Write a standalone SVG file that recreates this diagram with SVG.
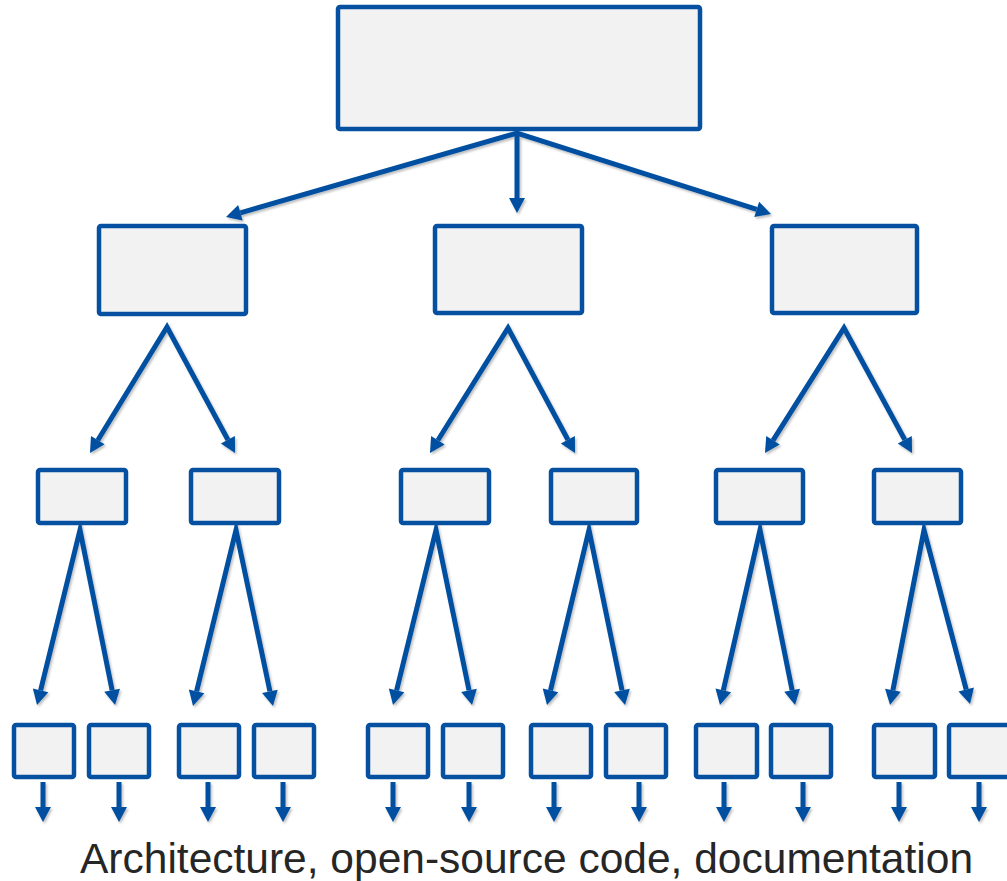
<svg xmlns="http://www.w3.org/2000/svg" width="1007" height="881" viewBox="0 0 1007 881">
  <style>
    .box { fill: #f2f2f2; stroke: #0550a0; stroke-width: 4.5; stroke-linejoin: round; }
    .con { fill: none; stroke: #0550a0; stroke-width: 5; stroke-linejoin: miter; stroke-miterlimit: 10; }
    .arr { marker-end: url(#ah); }
    .pair { marker-start: url(#ah); marker-end: url(#ah); }
    .cap { font-family: "Liberation Sans", Arial, sans-serif; font-size: 42.5px; fill: #262626; }
  </style>
  <defs>
    <marker id="ah" markerUnits="userSpaceOnUse" markerWidth="17" markerHeight="17" refX="0" refY="8" orient="auto-start-reverse" overflow="visible">
      <path d="M0,0 L15,8 L0,16 Z" fill="#0550a0"/>
    </marker>
    <filter id="sh" x="-5%" y="-5%" width="110%" height="110%">
      <feDropShadow dx="1.5" dy="2" stdDeviation="1.2" flood-color="#000" flood-opacity="0.25"/>
    </filter>
  </defs>
  <rect width="1007" height="881" fill="#ffffff"/>

  <g id="connectors" filter="url(#sh)">
    <path class="con pair" d="M240.4,212.8 L517,133 L756.7,209.4"/>
    <path class="con arr" d="M517,133 L517,198"/>

    <path class="con pair" d="M97.8,440.2 L167,327 L227.9,439.8"/>
    <path class="con pair" d="M437.9,440.3 L508,328 L567.9,439.8"/>
    <path class="con pair" d="M773.0,440.3 L844,328 L904.8,439.8"/>

    <path class="con pair" d="M40.6,690.4 L80,530 L112.1,690.3"/>
    <path class="con pair" d="M196.6,691.4 L236,530 L269.9,691.3"/>
    <path class="con pair" d="M396.6,690.4 L436,530 L469.0,690.3"/>
    <path class="con pair" d="M550.5,690.4 L589,530 L622.0,690.3"/>
    <path class="con pair" d="M723.3,690.4 L760,530 L792.1,690.3"/>
    <path class="con pair" d="M892.9,690.3 L924,530 L966.2,689.5"/>

    <path class="con arr" d="M43,782 L43,807"/>
    <path class="con arr" d="M119,782 L119,807"/>
    <path class="con arr" d="M208,782 L208,807"/>
    <path class="con arr" d="M283,782 L283,807"/>
    <path class="con arr" d="M393,782 L393,807"/>
    <path class="con arr" d="M469,782 L469,807"/>
    <path class="con arr" d="M554,782 L554,807"/>
    <path class="con arr" d="M639,782 L639,807"/>
    <path class="con arr" d="M724,782 L724,807"/>
    <path class="con arr" d="M803,782 L803,807"/>
    <path class="con arr" d="M899,782 L899,807"/>
    <path class="con arr" d="M979,782 L979,807"/>
  </g>

  <g id="root"><rect class="box" x="338" y="7" width="362" height="122" rx="2"/></g>

  <g id="n2-1"><rect class="box" x="99" y="226" width="147" height="88" rx="2"/></g>
  <g id="n2-2"><rect class="box" x="435" y="226" width="147" height="87" rx="2"/></g>
  <g id="n2-3"><rect class="box" x="772" y="226" width="145" height="87" rx="2"/></g>

  <g id="n3-1"><rect class="box" x="38" y="470" width="88" height="53" rx="2"/></g>
  <g id="n3-2"><rect class="box" x="191" y="470" width="88" height="53" rx="2"/></g>
  <g id="n3-3"><rect class="box" x="401" y="470" width="88" height="53" rx="2"/></g>
  <g id="n3-4"><rect class="box" x="551" y="470" width="86" height="53" rx="2"/></g>
  <g id="n3-5"><rect class="box" x="716" y="470" width="87" height="53" rx="2"/></g>
  <g id="n3-6"><rect class="box" x="874" y="470" width="87" height="53" rx="2"/></g>

  <g id="n4-1"><rect class="box" x="14" y="725" width="60" height="52" rx="2"/></g>
  <g id="n4-2"><rect class="box" x="89" y="725" width="60" height="52" rx="2"/></g>
  <g id="n4-3"><rect class="box" x="179" y="725" width="60" height="52" rx="2"/></g>
  <g id="n4-4"><rect class="box" x="254" y="725" width="60" height="52" rx="2"/></g>
  <g id="n4-5"><rect class="box" x="368" y="725" width="60" height="52" rx="2"/></g>
  <g id="n4-6"><rect class="box" x="443" y="725" width="60" height="52" rx="2"/></g>
  <g id="n4-7"><rect class="box" x="531" y="725" width="60" height="52" rx="2"/></g>
  <g id="n4-8"><rect class="box" x="606" y="725" width="60" height="52" rx="2"/></g>
  <g id="n4-9"><rect class="box" x="696" y="725" width="61" height="52" rx="2"/></g>
  <g id="n4-10"><rect class="box" x="771" y="725" width="60" height="52" rx="2"/></g>
  <g id="n4-11"><rect class="box" x="874" y="725" width="61" height="52" rx="2"/></g>
  <g id="n4-12"><rect class="box" x="949" y="725" width="62" height="52" rx="2"/></g>

  <g id="caption"><text class="cap" x="80" y="873">Architecture, open-source code, documentation</text></g>
</svg>
